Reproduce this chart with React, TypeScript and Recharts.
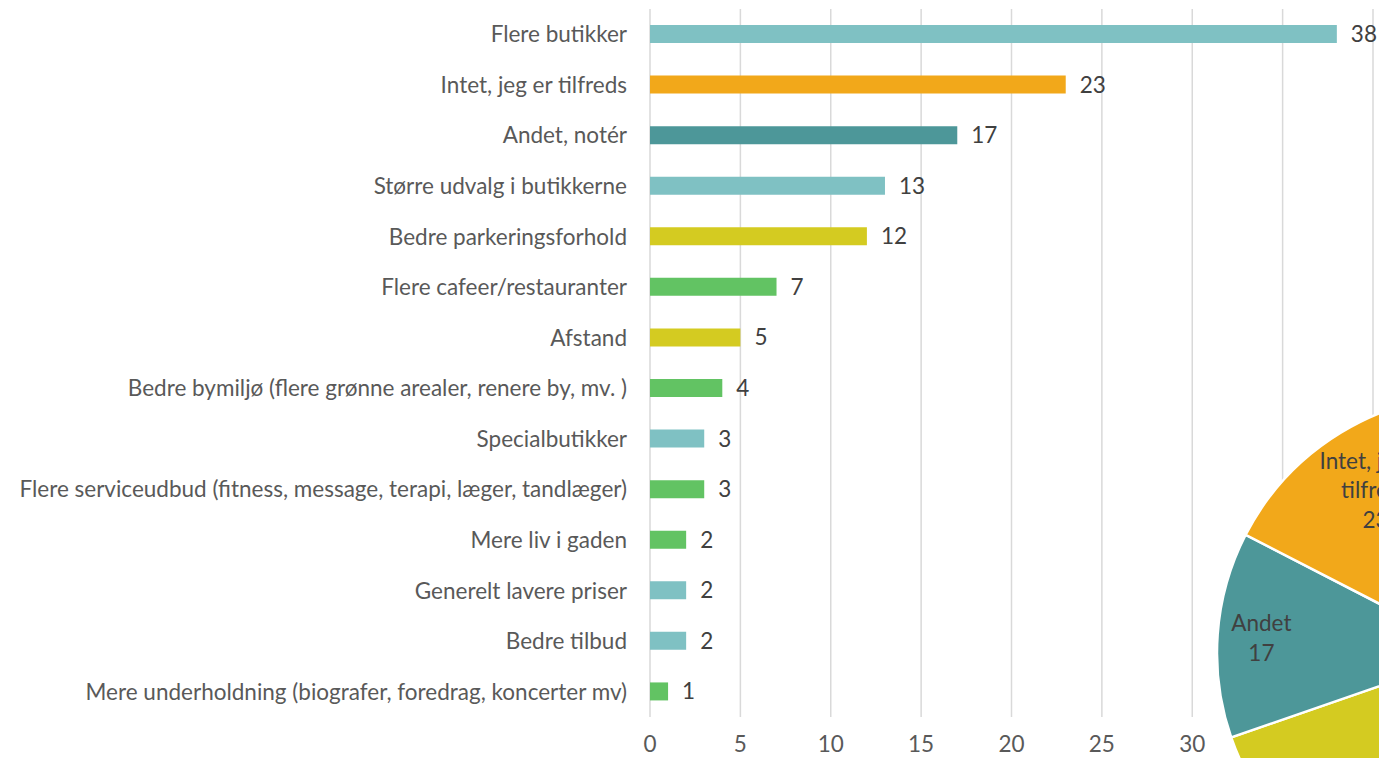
import { BarChart, Bar, XAxis, YAxis, CartesianGrid, LabelList, Cell, PieChart, Pie } from 'recharts'

// Bar chart data (top to bottom)
const categories = [
  'Flere butikker',
  'Intet, jeg er tilfreds',
  'Andet, notér',
  'Større udvalg i butikkerne',
  'Bedre parkeringsforhold',
  'Flere cafeer/restauranter',
  'Afstand',
  'Bedre bymiljø (flere grønne arealer, renere by, mv. )',
  'Specialbutikker',
  'Flere serviceudbud (fitness, message, terapi, læger, tandlæger)',
  'Mere liv i gaden ',
  'Generelt lavere priser',
  'Bedre tilbud',
  'Mere underholdning (biografer, foredrag, koncerter mv)',
]
const values = [38, 23, 17, 13, 12, 7, 5, 4, 3, 3, 2, 2, 2, 1]
const groups = [
  'shop', 'none', 'other', 'shop', 'access', 'experience', 'access',
  'experience', 'shop', 'experience', 'experience', 'shop', 'shop', 'experience',
]
const xTicks = [0, 5, 10, 15, 20, 25, 30, 35, 40]

// Pie (grouped) data, clockwise from 12 o'clock
const pieNames = ['Butikker', 'Oplevelser og service', 'Tilgængelighed', 'Andet', 'Intet, jeg er tilfreds']
const pieValues = [58, 17, 17, 17, 23]
const pieGroups = ['shop', 'experience', 'access', 'other', 'none']

const groupColors: Record<string, string> = {
  shop: '#7fc1c3',
  none: '#f2a81a',
  other: '#4d9799',
  access: '#d4cb21',
  experience: '#62c363',
}

// how far out (fraction of radius) each pie label sits
const pieLabelRadius: Record<string, number> = {
  shop: 0.75,
  experience: 0.75,
  access: 0.75,
  other: 0.83,
  none: 0.74,
}

const FONT = 'Lato, sans-serif'
const FONT_SIZE = 22.5

const barData = categories.map((name, i) => ({ name, value: values[i], group: groups[i] }))
const pieData = pieNames.map((name, i) => ({ name, value: pieValues[i], group: pieGroups[i] }))

const wrap = (text: string, max = 13) => {
  const lines: string[] = []
  let cur = ''
  text.split(' ').forEach((w) => {
    if (cur && (cur + ' ' + w).length > max) {
      lines.push(cur)
      cur = w
    } else {
      cur = cur ? cur + ' ' + w : w
    }
  })
  if (cur) lines.push(cur)
  return lines
}

const RADIAN = Math.PI / 180

const renderPieLabel = (props: any) => {
  const { cx, cy, midAngle, outerRadius, index } = props
  const d = pieData[index]
  const r = outerRadius * pieLabelRadius[d.group]
  const x = cx + r * Math.cos(-midAngle * RADIAN)
  const y = cy + r * Math.sin(-midAngle * RADIAN)
  const lines = [...wrap(d.name), String(d.value)]
  const lh = 29.5
  const y0 = y - ((lines.length - 1) * lh) / 2
  return (
    <text x={x} y={y0} textAnchor="middle" fill="#404040" fontSize={FONT_SIZE} fontFamily={FONT}>
      {lines.map((l, i) => (
        <tspan key={i} x={x} y={y0 + i * lh} dominantBaseline="central">
          {l}
        </tspan>
      ))}
    </text>
  )
}

export default function App() {
  return (
    <div style={{ position: 'absolute', left: 0, top: 0, width: 1379, height: 758, background: '#fff', overflow: 'hidden' }}>
      <BarChart
        width={1379}
        height={758}
        data={barData}
        layout="vertical"
        margin={{ top: 9, right: 6, bottom: 0, left: 0 }}
        style={{ fontFamily: FONT }}
      >
        <CartesianGrid horizontal={false} stroke="#d9d9d9" strokeWidth={1.5} />
        <XAxis
          type="number"
          domain={[0, 40]}
          ticks={xTicks}
          axisLine={false}
          tickLine={false}
          tickSize={0}
          tickMargin={19}
          height={41}
          tick={{ fill: '#595959', fontSize: FONT_SIZE }}
        />
        <YAxis
          type="category"
          dataKey="name"
          width={650}
          axisLine={false}
          tickLine={false}
          tickSize={0}
          tickMargin={23}
          interval={0}
          tick={{ fill: '#595959', fontSize: FONT_SIZE }}
        />
        <Bar dataKey="value" barSize={18} isAnimationActive={false}>
          {barData.map((d) => (
            <Cell key={d.name} fill={groupColors[d.group]} />
          ))}
          <LabelList dataKey="value" position="right" offset={14} fill="#404040" fontSize={FONT_SIZE} />
        </Bar>
      </BarChart>
      <div style={{ position: 'absolute', left: 0, top: 0 }}>
        <PieChart width={1379} height={758} margin={{ top: 0, right: 0, bottom: 0, left: 0 }}>
          <Pie
            data={pieData}
            dataKey="value"
            nameKey="name"
            cx={1475}
            cy={653}
            outerRadius={258}
            startAngle={90}
            endAngle={-270}
            stroke="#ffffff"
            strokeWidth={2.5}
            label={renderPieLabel}
            labelLine={false}
            isAnimationActive={false}
          >
            {pieData.map((d) => (
              <Cell key={d.name} fill={groupColors[d.group]} />
            ))}
          </Pie>
        </PieChart>
      </div>
    </div>
  )
}
